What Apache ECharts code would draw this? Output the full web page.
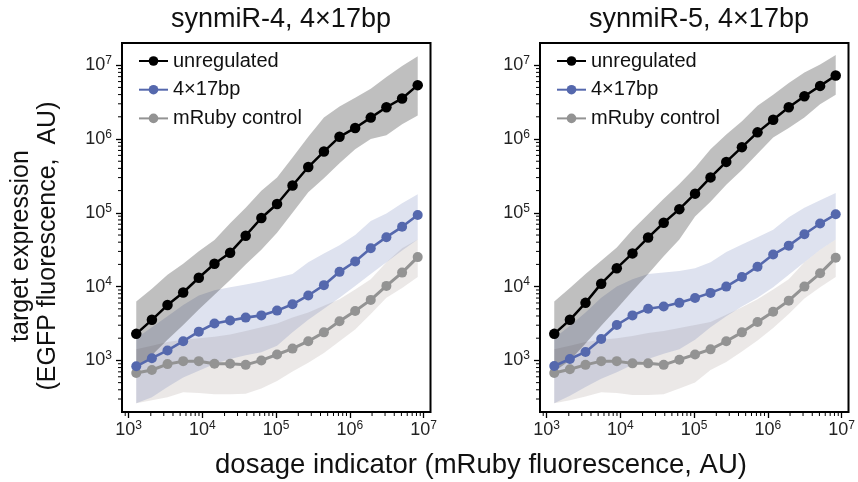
<!DOCTYPE html>
<html>
<head>
<meta charset="utf-8">
<script src="https://cdn.jsdelivr.net/npm/echarts@6/dist/echarts.min.js"></script>
<style>
  html, body { margin: 0; padding: 0; background: #fff; }
  #chart { width: 858px; height: 482px; }
</style>
</head>
<body>
<div id="chart"></div>
<script>
// dosage bins, mRuby fluorescence (AU)
const dosage = [1270, 2070, 3370, 5500, 8950, 14600, 23800, 38700, 63100, 103000,
  167000, 273000, 445000, 724000, 1180000, 1920000, 3130000, 5110000, 8320000];

// target expression as log10(EGFP AU)
// synmiR-4 panel
const unreg4   = [3.36, 3.55, 3.75, 3.92, 4.12, 4.31, 4.46, 4.69, 4.93, 5.12, 5.37, 5.62, 5.83, 6.03, 6.15, 6.29, 6.43, 6.55, 6.73];
const unreg4Hi = [3.80, 3.97, 4.16, 4.31, 4.48, 4.63, 4.86, 5.07, 5.30, 5.48, 5.75, 6.03, 6.29, 6.44, 6.56, 6.68, 6.84, 6.99, 7.12];
const unreg4Lo = [2.87, 3.07, 3.28, 3.48, 3.69, 3.89, 4.09, 4.30, 4.50, 4.73, 5.00, 5.28, 5.47, 5.67, 5.86, 6.00, 6.05, 6.20, 6.32];
const mir4     = [2.92, 3.03, 3.135, 3.26, 3.39, 3.50, 3.54, 3.58, 3.61, 3.675, 3.76, 3.88, 4.02, 4.20, 4.34, 4.52, 4.67, 4.81, 4.97];
const mir4Hi   = [3.30, 3.45, 3.60, 3.75, 3.88, 3.95, 3.99, 4.03, 4.07, 4.12, 4.17, 4.33, 4.45, 4.56, 4.70, 4.89, 4.99, 5.13, 5.25];
const mir4Lo   = [2.42, 2.50, 2.64, 2.77, 2.86, 2.95, 3.02, 3.07, 3.11, 3.20, 3.38, 3.55, 3.70, 3.85, 4.01, 4.17, 4.33, 4.49, 4.64];
const ctrl4    = [2.83, 2.87, 2.95, 2.99, 2.99, 2.955, 2.955, 2.94, 3.00, 3.08, 3.16, 3.26, 3.38, 3.53, 3.67, 3.82, 4.01, 4.19, 4.40];
const ctrl4Hi  = [3.15, 3.20, 3.25, 3.28, 3.30, 3.32, 3.35, 3.40, 3.45, 3.50, 3.58, 3.65, 3.74, 3.83, 3.96, 4.10, 4.33, 4.52, 4.64];
const ctrl4Lo  = [2.42, 2.46, 2.50, 2.57, 2.56, 2.54, 2.54, 2.55, 2.62, 2.72, 2.85, 2.97, 3.10, 3.26, 3.42, 3.63, 3.85, 3.98, 4.13];

// synmiR-5 panel
const unreg5   = [3.36, 3.55, 3.78, 4.04, 4.25, 4.45, 4.665, 4.865, 5.05, 5.26, 5.48, 5.69, 5.89, 6.09, 6.26, 6.43, 6.58, 6.72, 6.86];
const unreg5Hi = [3.80, 3.98, 4.17, 4.35, 4.53, 4.77, 4.98, 5.19, 5.39, 5.61, 5.86, 6.06, 6.24, 6.45, 6.60, 6.76, 6.90, 7.01, 7.14];
const unreg5Lo = [2.85, 3.00, 3.23, 3.47, 3.70, 3.94, 4.17, 4.41, 4.64, 4.95, 5.15, 5.38, 5.58, 5.80, 6.02, 6.15, 6.29, 6.47, 6.60];
const mir5     = [2.925, 3.02, 3.115, 3.29, 3.48, 3.61, 3.70, 3.73, 3.78, 3.845, 3.915, 4.00, 4.13, 4.27, 4.435, 4.555, 4.71, 4.855, 4.98];
const mir5Hi   = [3.30, 3.47, 3.65, 3.85, 4.00, 4.10, 4.17, 4.19, 4.21, 4.25, 4.33, 4.47, 4.57, 4.67, 4.77, 4.94, 5.07, 5.17, 5.27];
const mir5Lo   = [2.42, 2.52, 2.64, 2.75, 2.84, 2.94, 3.02, 3.09, 3.15, 3.28, 3.45, 3.60, 3.73, 3.85, 3.99, 4.16, 4.33, 4.50, 4.64];
const ctrl5    = [2.83, 2.88, 2.94, 2.99, 2.99, 2.96, 2.96, 2.94, 3.01, 3.08, 3.15, 3.26, 3.38, 3.52, 3.66, 3.81, 4.00, 4.18, 4.39];
const ctrl5Hi  = [3.15, 3.20, 3.25, 3.28, 3.30, 3.33, 3.37, 3.40, 3.44, 3.48, 3.52, 3.62, 3.72, 3.83, 3.96, 4.10, 4.33, 4.50, 4.64];
const ctrl5Lo  = [2.42, 2.46, 2.51, 2.57, 2.56, 2.53, 2.53, 2.54, 2.62, 2.70, 2.87, 2.98, 3.12, 3.27, 3.44, 3.63, 3.84, 3.99, 4.13];

const titles = ['synmiR-4, 4×17bp', 'synmiR-5, 4×17bp'];
const names = ['unregulated', '4×17bp', 'mRuby control'];
const minorMult = [2, 3, 4, 5, 6, 7, 8, 9];
const decades = [100, 1000, 10000, 100000, 1000000, 10000000];

const X_MIN = 814, X_MAX = 1.24e7, Y_MIN = 200, Y_MAX = 2e7;
const FONT = '"Liberation Sans", Arial, sans-serif';

const pow10 = arr => arr.map(v => Math.pow(10, v));

const panels = [
  { unreg: unreg4, unregHi: unreg4Hi, unregLo: unreg4Lo, mir: mir4, mirHi: mir4Hi, mirLo: mir4Lo, ctrl: ctrl4, ctrlHi: ctrl4Hi, ctrlLo: ctrl4Lo },
  { unreg: unreg5, unregHi: unreg5Hi, unregLo: unreg5Lo, mir: mir5, mirHi: mir5Hi, mirLo: mir5Lo, ctrl: ctrl5, ctrlHi: ctrl5Hi, ctrlLo: ctrl5Lo }
];

let minorTicks = [];
decades.forEach(d => minorMult.forEach(m => minorTicks.push(d * m)));
const minorX = minorTicks.filter(v => v > X_MIN && v < X_MAX);
const minorY = minorTicks.filter(v => v > Y_MIN && v < Y_MAX);

const chart = echarts.init(document.getElementById('chart'));

function bandSeries(p, lo, hi, color) {
  const loV = pow10(lo), hiV = pow10(hi);
  return {
    type: 'custom', xAxisIndex: p, yAxisIndex: p, z: 1, silent: true,
    data: [[dosage[0], hiV[0]]],
    renderItem: (params, api) => {
      const pts = [];
      for (let i = 0; i < dosage.length; i++) pts.push(api.coord([dosage[i], hiV[i]]));
      for (let i = dosage.length - 1; i >= 0; i--) pts.push(api.coord([dosage[i], loV[i]]));
      return { type: 'polygon', shape: { points: pts }, style: { fill: color } };
    }
  };
}

function lineSeries(p, name, vals, color, width, size) {
  const v = pow10(vals);
  return {
    type: 'line', name: name, xAxisIndex: p, yAxisIndex: p, z: 3,
    data: dosage.map((x, i) => [x, v[i]]),
    symbol: 'circle', symbolSize: size, showSymbol: true,
    lineStyle: { color: color, width: width },
    itemStyle: { color: color },
    emphasis: { disabled: true }
  };
}

function tickSeries(p) {
  return {
    type: 'custom', xAxisIndex: p, yAxisIndex: p, z: 5, silent: true, clip: false,
    data: [[X_MIN, Y_MIN]],
    renderItem: (params, api) => {
      const children = [];
      minorX.forEach(v => {
        const c = api.coord([v, Y_MIN]);
        children.push({ type: 'line', shape: { x1: c[0], y1: c[1], x2: c[0], y2: c[1] + 4 }, style: { stroke: '#000', lineWidth: 1 } });
      });
      minorY.forEach(v => {
        const c = api.coord([X_MIN, v]);
        children.push({ type: 'line', shape: { x1: c[0] - 4, y1: c[1], x2: c[0], y2: c[1] }, style: { stroke: '#000', lineWidth: 1 } });
      });
      return { type: 'group', children: children };
    }
  };
}

const labelFmt = v => '{b|10}{s|' + Math.round(Math.log10(v)) + '}';
const labelRich = {
  b: { fontSize: 18, color: '#222', fontFamily: FONT },
  s: { fontSize: 12, color: '#222', fontFamily: FONT, padding: [0, 0, 9, 0] }
};

const grids = [
  { left: 122, top: 43, width: 308.5, height: 369 },
  { left: 540, top: 43, width: 308.5, height: 369 }
];

let series = [];
panels.forEach((d, p) => {
  series.push(bandSeries(p, d.ctrlLo, d.ctrlHi, 'rgba(165,150,145,0.22)'));
  series.push(bandSeries(p, d.mirLo, d.mirHi, 'rgba(90,108,176,0.2)'));
  series.push(bandSeries(p, d.unregLo, d.unregHi, 'rgba(0,0,0,0.25)'));
  series.push(lineSeries(p, names[2], d.ctrl, '#939393', 3, 10));
  series.push(lineSeries(p, names[1], d.mir, '#5568ad', 2.6, 10));
  series.push(lineSeries(p, names[0], d.unreg, '#000000', 2.5, 10.5));
  series.push(tickSeries(p));
});

const option = {
  animation: false,
  backgroundColor: '#fff',
  title: titles.map((t, p) => ({
    text: t,
    left: p === 0 ? 276 : 694,
    top: 1,
    textAlign: 'center',
    textStyle: { fontSize: 27, fontWeight: 'normal', color: '#111', fontFamily: FONT }
  })),
  legend: [0, 1].map(p => ({
    data: names,
    orient: 'vertical',
    left: p === 0 ? 133 : 551,
    top: 46,
    itemWidth: 29,
    itemHeight: 12,
    itemGap: 8.7,
    selectedMode: false,
    textStyle: { fontSize: 20, color: '#111', fontFamily: FONT, lineHeight: 20 }
  })),
  grid: grids.map(g => Object.assign({ show: true, borderColor: '#000', borderWidth: 2, backgroundColor: 'transparent' }, g)),
  xAxis: [0, 1].map(p => ({
    type: 'log', logBase: 10, gridIndex: p, min: X_MIN, max: X_MAX,
    axisLine: { show: false },
    splitLine: { show: false },
    axisTick: { length: 6, lineStyle: { color: '#000', width: 1.3 } },
    axisLabel: { showMinLabel: false, showMaxLabel: false, margin: 8, formatter: labelFmt, rich: labelRich }
  })),
  yAxis: [0, 1].map(p => ({
    type: 'log', logBase: 10, gridIndex: p, min: Y_MIN, max: Y_MAX,
    axisLine: { show: false },
    splitLine: { show: false },
    axisTick: { length: 6, lineStyle: { color: '#000', width: 1.3 } },
    axisLabel: { showMinLabel: false, showMaxLabel: false, margin: 10, formatter: labelFmt, rich: labelRich }
  })),
  graphic: [
    {
      type: 'text', x: 481, y: 465, silent: true,
      style: { text: 'dosage indicator (mRuby fluorescence, AU)', font: '27.5px ' + FONT, fill: '#111', align: 'center', verticalAlign: 'middle' }
    },
    {
      type: 'text', x: 35, y: 246, rotation: Math.PI / 2, silent: true,
      style: { text: 'target expression\n(EGFP fluorescence,  AU)', font: '25px ' + FONT, fill: '#111', align: 'center', verticalAlign: 'middle', lineHeight: 27 }
    }
  ],
  series: series
};

chart.setOption(option);
</script>
</body>
</html>
